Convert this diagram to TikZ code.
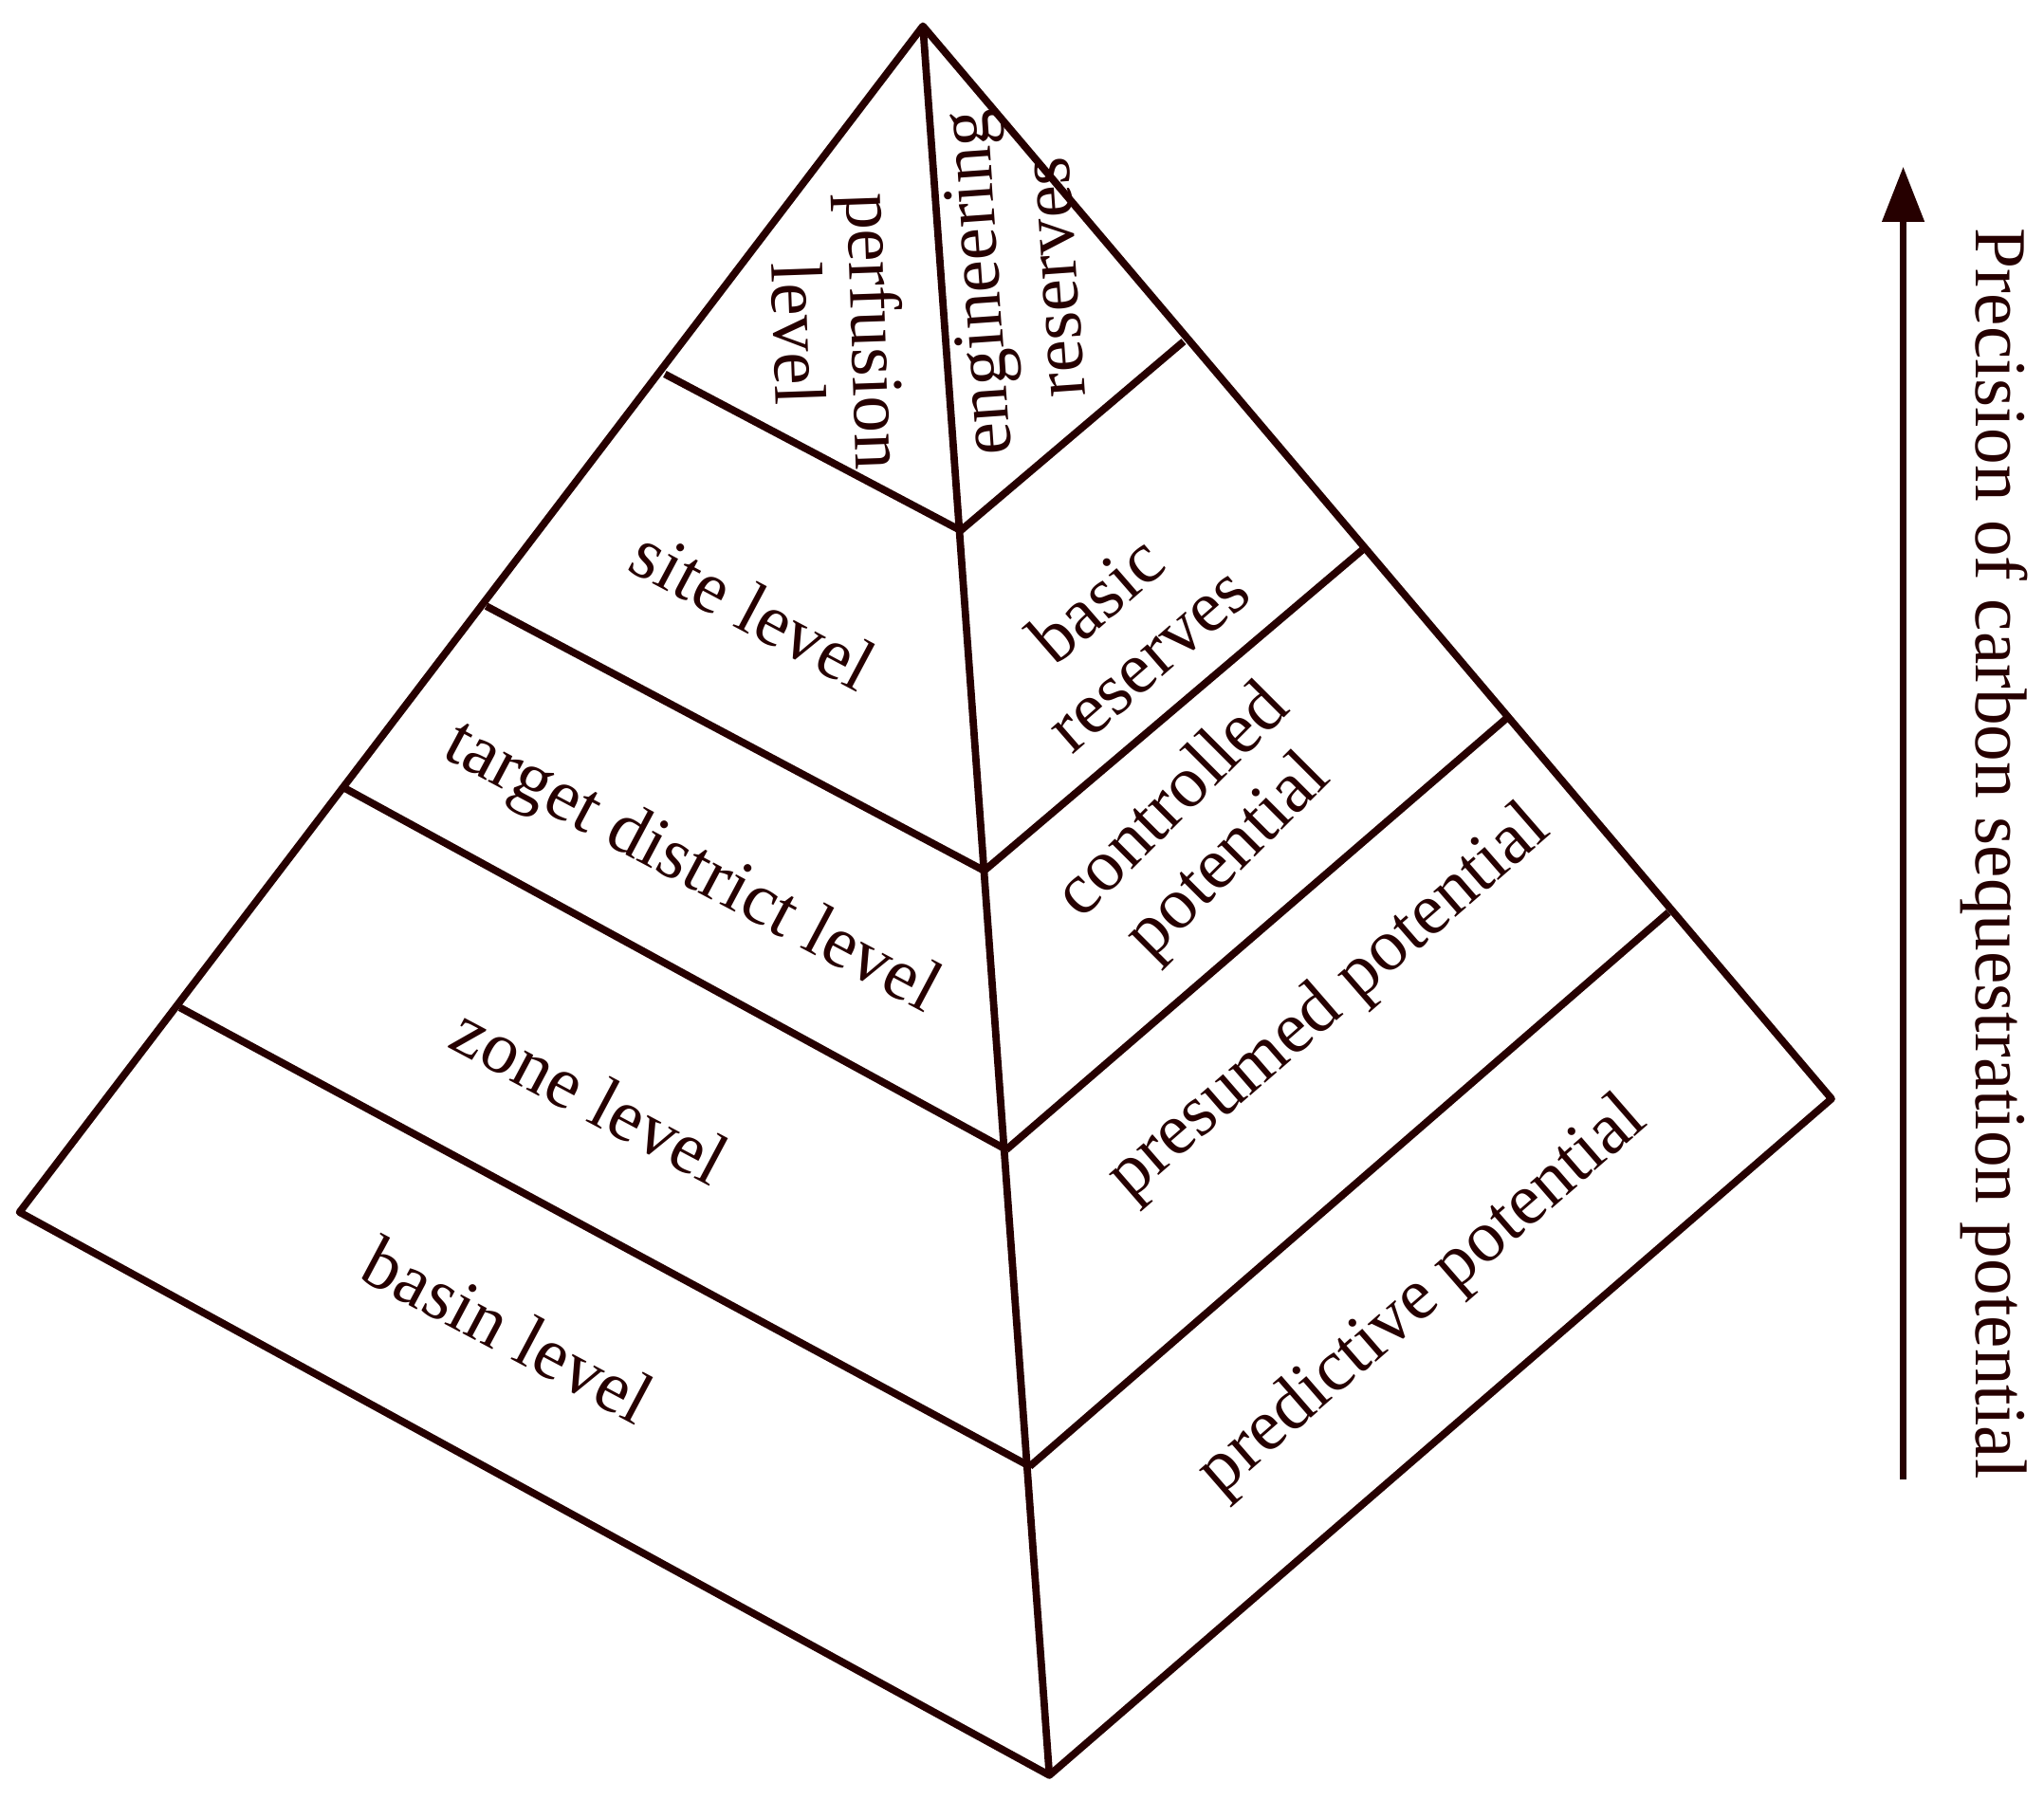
\documentclass[tikz,border=0pt]{standalone}
\usepackage{fontspec}
\setmainfont{Liberation Serif}
\usetikzlibrary{arrows.meta}
\begin{document}
\begin{tikzpicture}[x=0.01cm,y=-0.01cm,line width=1.6pt,color={black!85!red},
    lvl/.style={font=\fontsize{16}{17}\selectfont,align=center,inner sep=0pt},
    left lvl/.style={lvl,rotate=-28},
    right lvl/.style={lvl,rotate=41}]
  \useasboundingbox (0,0) rectangle (1568,1381);

  % corners of the pyramid
  \coordinate (top) at (708,20);
  \coordinate (left) at (15,930);
  \coordinate (bottom) at (805,1362);
  \coordinate (right) at (1405,843);

  % points on the ridge
  \coordinate (r1) at (737,407);
  \coordinate (r2) at (755,668);
  \coordinate (r3) at (772,882);
  \coordinate (r4) at (790,1125);

  % points on the left edge
  \coordinate (l1) at (510,287);
  \coordinate (l2) at (373,465);
  \coordinate (l3) at (265,605);
  \coordinate (l4) at (138,773);

  % points on the right edge
  \coordinate (e1) at (908,262);
  \coordinate (e2) at (1045,422);
  \coordinate (e3) at (1157,550);
  \coordinate (e4) at (1280,700);

  \draw[line join=round] (top) -- (left) -- (bottom) -- (right) -- cycle;
  \draw (top) -- (bottom);
  \foreach \i in {1,...,4}{
    \draw (l\i) -- (r\i);
    \draw (r\i) -- (e\i);
  }

  % left face
  \node[lvl,rotate=-88] (perf) at (643,255) {perfusion\\level};
  \node[left lvl] (site) at (578,467) {site level};
  \node[left lvl] (target) at (530,667) {target district level};
  \node[left lvl] (zone) at (453,840) {zone level};
  \node[left lvl] (basin) at (390,1020) {basin level};

  % right face
  \node[lvl,rotate=94] (eng) at (778,215) {engineering\\reserves};
  \node[right lvl] (basic) at (860,482) {basic\\reserves};
  \node[right lvl,rotate=4] (ctrl) at (922,637) {controlled\\potential};
  \node[right lvl] (pres) at (1020,770) {presumed potential};
  \node[right lvl] (pred) at (1092,995) {predictive potential};

  % precision arrow
  \coordinate (a0) at (1460,1135);
  \coordinate (a1) at (1460,128);
  \draw[line width=1.3pt,-{Triangle[length=12pt,width=9pt]}] (a0) -- (a1);
  \node[lvl,rotate=-90] (prec) at (1530,655) {Precision of carbon sequestration potential};
\end{tikzpicture}
\end{document}
